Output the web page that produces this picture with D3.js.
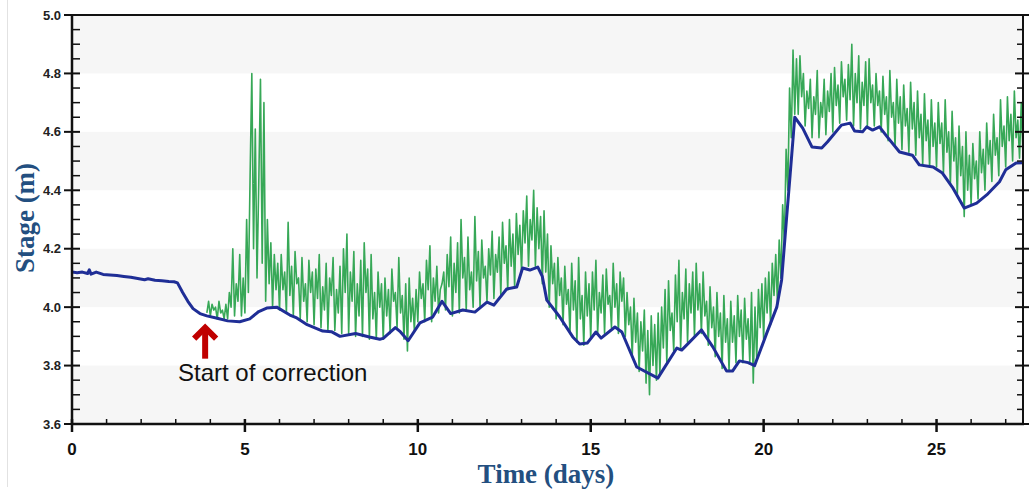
<!DOCTYPE html>
<html>
<head>
<meta charset="utf-8">
<script src="https://cdn.jsdelivr.net/npm/d3@7"></script>
<style>
  html, body { margin: 0; padding: 0; background: #ffffff; }
  svg { display: block; }
</style>
</head>
<body>
<svg id="chart" width="1029" height="490"></svg>
<script>
// Observed stage: blue trace, [day, stage in m]
const observedDays = [0.0, 0.15, 0.3, 0.45, 0.5, 0.55, 0.7, 0.9, 1.1, 1.3, 1.5, 1.7, 1.9, 2.1, 2.2, 2.4, 2.6, 2.8, 2.95, 3.05,
  3.2, 3.35, 3.5, 3.7, 3.9, 4.2, 4.5, 4.85, 5.14, 5.4, 5.63, 5.92, 6.3, 6.5, 6.8, 7.25, 7.5, 7.75, 8.2, 8.6,
  8.9, 9.0, 9.35, 9.5, 9.72, 10.06, 10.43, 10.7, 10.95, 11.3, 11.65, 12.0, 12.2, 12.57, 12.86, 13.03, 13.24, 13.47, 13.6, 13.73,
  14.1, 14.48, 14.68, 14.9, 15.15, 15.3, 15.7, 15.9, 16.33, 16.94, 17.49, 17.63, 18.2, 18.53, 18.93, 19.1, 19.3, 19.55, 19.74, 20.09,
  20.38, 20.52, 20.66, 20.75, 20.9, 21.13, 21.4, 21.68, 21.85, 22.25, 22.5, 22.63, 22.86, 22.98, 23.15, 23.35, 23.58, 23.93, 24.3, 24.5,
  24.9, 25.17, 25.46, 25.8, 26.16, 26.45, 26.82, 27.0, 27.3, 27.5];
const observedStage = [4.120, 4.118, 4.120, 4.115, 4.128, 4.113, 4.120, 4.112, 4.110, 4.108, 4.105, 4.102, 4.098, 4.094, 4.097, 4.092, 4.090, 4.088, 4.087, 4.083,
  4.050, 4.020, 3.995, 3.978, 3.970, 3.962, 3.953, 3.950, 3.960, 3.985, 3.997, 4.000, 3.973, 3.963, 3.940, 3.918, 3.916, 3.900, 3.910, 3.898,
  3.890, 3.893, 3.930, 3.915, 3.885, 3.946, 3.966, 4.020, 3.978, 3.990, 3.983, 4.017, 4.007, 4.062, 4.069, 4.134, 4.127, 4.137, 4.105, 4.024,
  3.967, 3.898, 3.874, 3.877, 3.915, 3.894, 3.932, 3.915, 3.795, 3.757, 3.860, 3.853, 3.922, 3.864, 3.781, 3.781, 3.816, 3.810, 3.800, 3.911,
  4.000, 4.093, 4.300, 4.430, 4.650, 4.613, 4.548, 4.545, 4.566, 4.623, 4.630, 4.603, 4.600, 4.617, 4.606, 4.617, 4.582, 4.531, 4.520, 4.487,
  4.480, 4.459, 4.410, 4.339, 4.356, 4.384, 4.429, 4.470, 4.493, 4.494];

// Corrected stage: green trace, sampled every 0.05 day from day 3.90
const correctedStart = 3.90;
const correctedStep = 0.05;
const correctedStage = [
  // 3.90 - 4.45
  3.98, 4.02, 3.97, 4.01, 3.99, 4.00, 3.96, 4.02, 3.98, 3.99, 3.96, 4.01,
  // 4.50 - 4.95
  3.96, 4.05, 4.00, 4.20, 3.97, 4.08, 4.02, 4.18, 3.97, 4.10,
  // 5.00 - 5.55
  3.98, 4.30, 4.05, 4.45, 4.80, 4.20, 4.61, 4.10, 4.42, 4.78, 4.15, 4.70,
  // 5.60 - 5.95
  4.02, 4.30, 4.08, 4.22, 4.00, 4.18, 4.06, 4.15,
  // 6
  3.99, 4.18, 4.06, 4.12, 3.98, 4.29, 4.04, 4.14, 3.97, 4.19, 4.08, 4.10, 3.96, 4.17, 4.02, 4.08, 3.95, 4.16, 4.05, 4.12,
  // 7
  3.94, 4.13, 4.03, 4.18, 3.93, 4.07, 3.99, 4.15, 3.92, 4.10, 4.04, 4.17, 3.92, 4.06, 3.98, 4.14, 3.91, 4.20, 4.05, 4.25,
  // 8
  3.91, 4.12, 4.02, 4.19, 3.90, 4.08, 3.97, 4.16, 3.90, 4.22, 4.05, 4.13, 3.89, 4.18, 3.96, 4.05, 3.89, 4.12, 4.00, 4.08,
  // 9
  3.89, 4.10, 3.97, 4.06, 3.91, 4.13, 4.02, 4.05, 3.93, 4.17, 3.98, 4.04, 3.89, 4.08, 3.85, 4.10, 3.95, 4.03, 3.92, 4.06,
  // 10
  3.95, 4.12, 4.03, 4.08, 3.95, 4.16, 4.06, 4.21, 3.95, 4.10, 4.02, 4.14, 3.98, 4.06, 4.08, 4.12, 3.99, 4.18, 4.07, 4.24,
  // 11
  3.97, 4.15, 4.05, 4.22, 3.98, 4.30, 4.10, 4.17, 3.99, 4.24, 4.06, 4.12, 4.00, 4.31, 4.09, 4.19, 4.00, 4.23, 4.10, 4.14,
  // 12
  4.02, 4.20, 4.11, 4.26, 4.03, 4.18, 4.12, 4.24, 4.04, 4.29, 4.15, 4.21, 4.06, 4.30, 4.14, 4.25, 4.07, 4.32, 4.18, 4.28,
  // 13
  4.12, 4.33, 4.22, 4.38, 4.14, 4.30, 4.23, 4.40, 4.14, 4.34, 4.20, 4.31, 4.08, 4.33, 4.12, 4.25, 4.00, 4.21, 4.08, 4.15,
  // 14
  3.96, 4.17, 4.04, 4.10, 3.94, 4.14, 4.01, 4.06, 3.91, 4.15, 3.99, 4.09, 3.88, 4.17, 3.96, 4.04, 3.87, 4.12, 3.97, 4.08,
  // 15
  3.89, 4.12, 3.99, 4.16, 3.91, 4.05, 3.98, 4.11, 3.91, 4.13, 4.01, 4.04, 3.93, 4.15, 4.00, 4.08, 3.91, 4.12, 4.02, 4.10,
  // 16
  3.90, 4.05, 3.94, 4.00, 3.83, 4.03, 3.88, 3.98, 3.78, 3.95, 3.85, 3.99, 3.74, 3.92, 3.70, 3.97, 3.80, 3.94, 3.75, 3.98,
  // 17
  3.77, 4.00, 3.86, 4.06, 3.81, 4.09, 3.92, 3.98, 3.85, 4.11, 3.95, 4.16, 3.86, 4.05, 3.96, 4.13, 3.88, 4.08, 3.98, 4.12,
  // 18
  3.90, 4.15, 3.99, 4.08, 3.91, 4.12, 3.97, 4.02, 3.87, 4.07, 3.93, 4.00, 3.83, 4.05, 3.90, 3.98, 3.79, 4.04, 3.88, 3.96,
  // 19
  3.78, 4.02, 3.88, 3.97, 3.81, 4.04, 3.90, 3.99, 3.81, 4.03, 3.89, 3.96, 3.81, 4.05, 3.74, 4.00, 3.82, 4.06, 3.93, 4.08,
  // 20
  3.89, 4.10, 3.98, 4.12, 3.94, 4.15, 4.04, 4.18, 4.01, 4.23, 4.10, 4.35, 4.22, 4.54, 4.40, 4.75, 4.58, 4.88, 4.66, 4.85,
  // 21
  4.66, 4.86, 4.72, 4.80, 4.62, 4.74, 4.68, 4.78, 4.58, 4.72, 4.66, 4.81, 4.58, 4.70, 4.65, 4.78, 4.59, 4.74, 4.67, 4.80,
  // 22
  4.60, 4.82, 4.69, 4.76, 4.63, 4.84, 4.72, 4.78, 4.64, 4.83, 4.71, 4.90, 4.62, 4.80, 4.70, 4.86, 4.61, 4.77, 4.69, 4.84,
  // 23
  4.62, 4.85, 4.70, 4.76, 4.62, 4.80, 4.69, 4.74, 4.60, 4.79, 4.66, 4.72, 4.57, 4.81, 4.65, 4.70, 4.55, 4.78, 4.63, 4.72,
  // 24
  4.54, 4.76, 4.62, 4.68, 4.53, 4.77, 4.61, 4.70, 4.52, 4.74, 4.58, 4.66, 4.49, 4.73, 4.57, 4.64, 4.48, 4.71, 4.55, 4.63,
  // 25
  4.48, 4.70, 4.56, 4.63, 4.46, 4.71, 4.53, 4.60, 4.42, 4.67, 4.50, 4.58, 4.38, 4.62, 4.45, 4.55, 4.31, 4.60, 4.40, 4.52,
  // 26
  4.35, 4.56, 4.44, 4.50, 4.37, 4.60, 4.46, 4.54, 4.40, 4.63, 4.49, 4.57, 4.43, 4.66, 4.52, 4.58, 4.45, 4.71, 4.55, 4.62,
  // 27.00 - 27.50
  4.48, 4.72, 4.57, 4.66, 4.50, 4.74, 4.58, 4.64, 4.51, 4.70, 4.52
];

// Axis ticks and labels
const xMajorTicks = [0, 5, 10, 15, 20, 25];
const xMinorTicks = [1, 2, 3, 4, 6, 7, 8, 9, 11, 12, 13, 14, 16, 17, 18, 19, 21, 22, 23, 24, 26, 27];
const yMajorTicks = [3.6, 3.8, 4.0, 4.2, 4.4, 4.6, 4.8, 5.0];
const yBands = [[3.6, 3.8], [4.0, 4.2], [4.4, 4.6], [4.8, 5.0]];
const annotationDay = 3.85;
const annotationText = "Start of correction";
const xTitle = "Time (days)";
const yTitle = "Stage (m)";

const svg = d3.select("#chart");
const plotLeft = 72, plotRight = 1023, plotTop = 15, plotBottom = 424;

const x = d3.scaleLinear().domain([0, 27.5]).range([plotLeft, plotRight]);
const y = d3.scaleLinear().domain([3.6, 5.0]).range([plotBottom, plotTop]);

// Page frame line on the far left
svg.append("line")
  .attr("x1", 7.5).attr("x2", 7.5).attr("y1", 0).attr("y2", 487)
  .attr("stroke", "#e2e2e2").attr("stroke-width", 1);

// Alternating background bands
svg.append("g").selectAll("rect")
  .data(yBands)
  .join("rect")
  .attr("x", plotLeft)
  .attr("width", plotRight - plotLeft)
  .attr("y", d => y(d[1]))
  .attr("height", d => y(d[0]) - y(d[1]))
  .attr("fill", "#f6f6f6");

// Clip the traces to the plot area
svg.append("clipPath").attr("id", "plot-clip")
  .append("rect").attr("x", plotLeft).attr("y", plotTop)
  .attr("width", plotRight - plotLeft).attr("height", plotBottom - plotTop);

const correctedPoints = correctedStage.map((v, i) => [correctedStart + i * correctedStep, v]);
const observedPoints = observedDays.map((d, i) => [d, observedStage[i]]);

const line = d3.line().x(d => x(d[0])).y(d => y(d[1]));

const traces = svg.append("g").attr("clip-path", "url(#plot-clip)");
traces.append("path")
  .datum(correctedPoints)
  .attr("d", line)
  .attr("fill", "none")
  .attr("stroke", "#37a857")
  .attr("stroke-width", 1.6)
  .attr("stroke-linejoin", "round");

traces.append("path")
  .datum(observedPoints)
  .attr("d", line)
  .attr("fill", "none")
  .attr("stroke", "#1f2e96")
  .attr("stroke-width", 3)
  .attr("stroke-linejoin", "round");

// Frame
const frame = svg.append("g").attr("stroke", "#111").attr("fill", "none");
frame.append("line").attr("x1", plotLeft).attr("x2", plotRight).attr("y1", plotTop).attr("y2", plotTop).attr("stroke-width", 2);
frame.append("line").attr("x1", plotLeft).attr("x2", plotRight + 1).attr("y1", plotBottom).attr("y2", plotBottom).attr("stroke-width", 2.5);
frame.append("line").attr("x1", plotLeft).attr("x2", plotLeft).attr("y1", plotTop - 1).attr("y2", plotBottom + 1).attr("stroke-width", 2.5);
frame.append("line").attr("x1", plotRight).attr("x2", plotRight).attr("y1", plotTop - 1).attr("y2", plotBottom + 1).attr("stroke-width", 2);

// Left axis: major ticks cross the line, minor ticks point inward
const yMinor = d3.range(3.65, 5.0, 0.05).filter(v => Math.abs(v * 5 - Math.round(v * 5)) > 1e-6);
const axisG = svg.append("g").attr("stroke", "#111");
axisG.append("g").selectAll("line").data(yMajorTicks).join("line")
  .attr("x1", plotLeft - 8).attr("x2", plotLeft + 8)
  .attr("y1", d => y(d)).attr("y2", d => y(d)).attr("stroke-width", 2);
axisG.append("g").selectAll("line").data(yMinor).join("line")
  .attr("x1", plotLeft).attr("x2", plotLeft + 8)
  .attr("y1", d => y(d)).attr("y2", d => y(d)).attr("stroke-width", 1.5);

// Right axis ticks, pointing inward
axisG.append("g").selectAll("line").data(yMajorTicks).join("line")
  .attr("x1", plotRight - 8).attr("x2", plotRight + 6)
  .attr("y1", d => y(d)).attr("y2", d => y(d)).attr("stroke-width", 2);
axisG.append("g").selectAll("line").data(yMinor).join("line")
  .attr("x1", plotRight - 6).attr("x2", plotRight)
  .attr("y1", d => y(d)).attr("y2", d => y(d)).attr("stroke-width", 1.5);

// Bottom axis ticks
axisG.append("g").selectAll("line").data(xMajorTicks).join("line")
  .attr("x1", d => x(d)).attr("x2", d => x(d))
  .attr("y1", plotBottom - 5).attr("y2", plotBottom + 8).attr("stroke-width", 2.5);
axisG.append("g").selectAll("line").data(xMinorTicks).join("line")
  .attr("x1", d => x(d)).attr("x2", d => x(d))
  .attr("y1", plotBottom - 5).attr("y2", plotBottom).attr("stroke-width", 1.5);

// Tick labels
svg.append("g").selectAll("text").data(yMajorTicks).join("text")
  .attr("x", plotLeft - 11)
  .attr("y", d => y(d) + 4.5)
  .attr("text-anchor", "end")
  .attr("font-family", "'Liberation Sans', Arial, sans-serif")
  .attr("font-weight", "bold")
  .attr("font-size", 13)
  .attr("fill", "#222")
  .text(d => d.toFixed(1));

svg.append("g").selectAll("text").data(xMajorTicks).join("text")
  .attr("x", d => x(d))
  .attr("y", plotBottom + 31)
  .attr("text-anchor", "middle")
  .attr("font-family", "'Liberation Sans', Arial, sans-serif")
  .attr("font-weight", "bold")
  .attr("font-size", 17)
  .attr("fill", "#111")
  .text(d => d);

// Axis titles
svg.append("text")
  .attr("x", 546).attr("y", 483)
  .attr("text-anchor", "middle")
  .attr("font-family", "'Liberation Serif', 'Times New Roman', serif")
  .attr("font-weight", "bold")
  .attr("font-size", 27)
  .attr("fill", "#234f80")
  .text(xTitle);

svg.append("text")
  .attr("transform", "translate(34,218) rotate(-90)")
  .attr("text-anchor", "middle")
  .attr("font-family", "'Liberation Serif', 'Times New Roman', serif")
  .attr("font-weight", "bold")
  .attr("font-size", 27)
  .attr("fill", "#234f80")
  .text(yTitle);

// Annotation arrow and label
const ax = x(annotationDay);
const tipY = y(3.94);
const arrow = svg.append("g").attr("stroke", "#c00000").attr("fill", "none").attr("stroke-width", 6);
arrow.append("line").attr("x1", ax).attr("x2", ax).attr("y1", tipY + 4).attr("y2", tipY + 34);
arrow.append("path")
  .attr("d", `M${ax - 11},${tipY + 14} L${ax},${tipY + 3} L${ax + 11},${tipY + 14}`)
  .attr("stroke-linejoin", "miter");

svg.append("text")
  .attr("x", 178).attr("y", 381)
  .attr("font-family", "'Liberation Sans', Arial, sans-serif")
  .attr("font-size", 24)
  .attr("fill", "#111")
  .text(annotationText);
</script>
</body>
</html>
